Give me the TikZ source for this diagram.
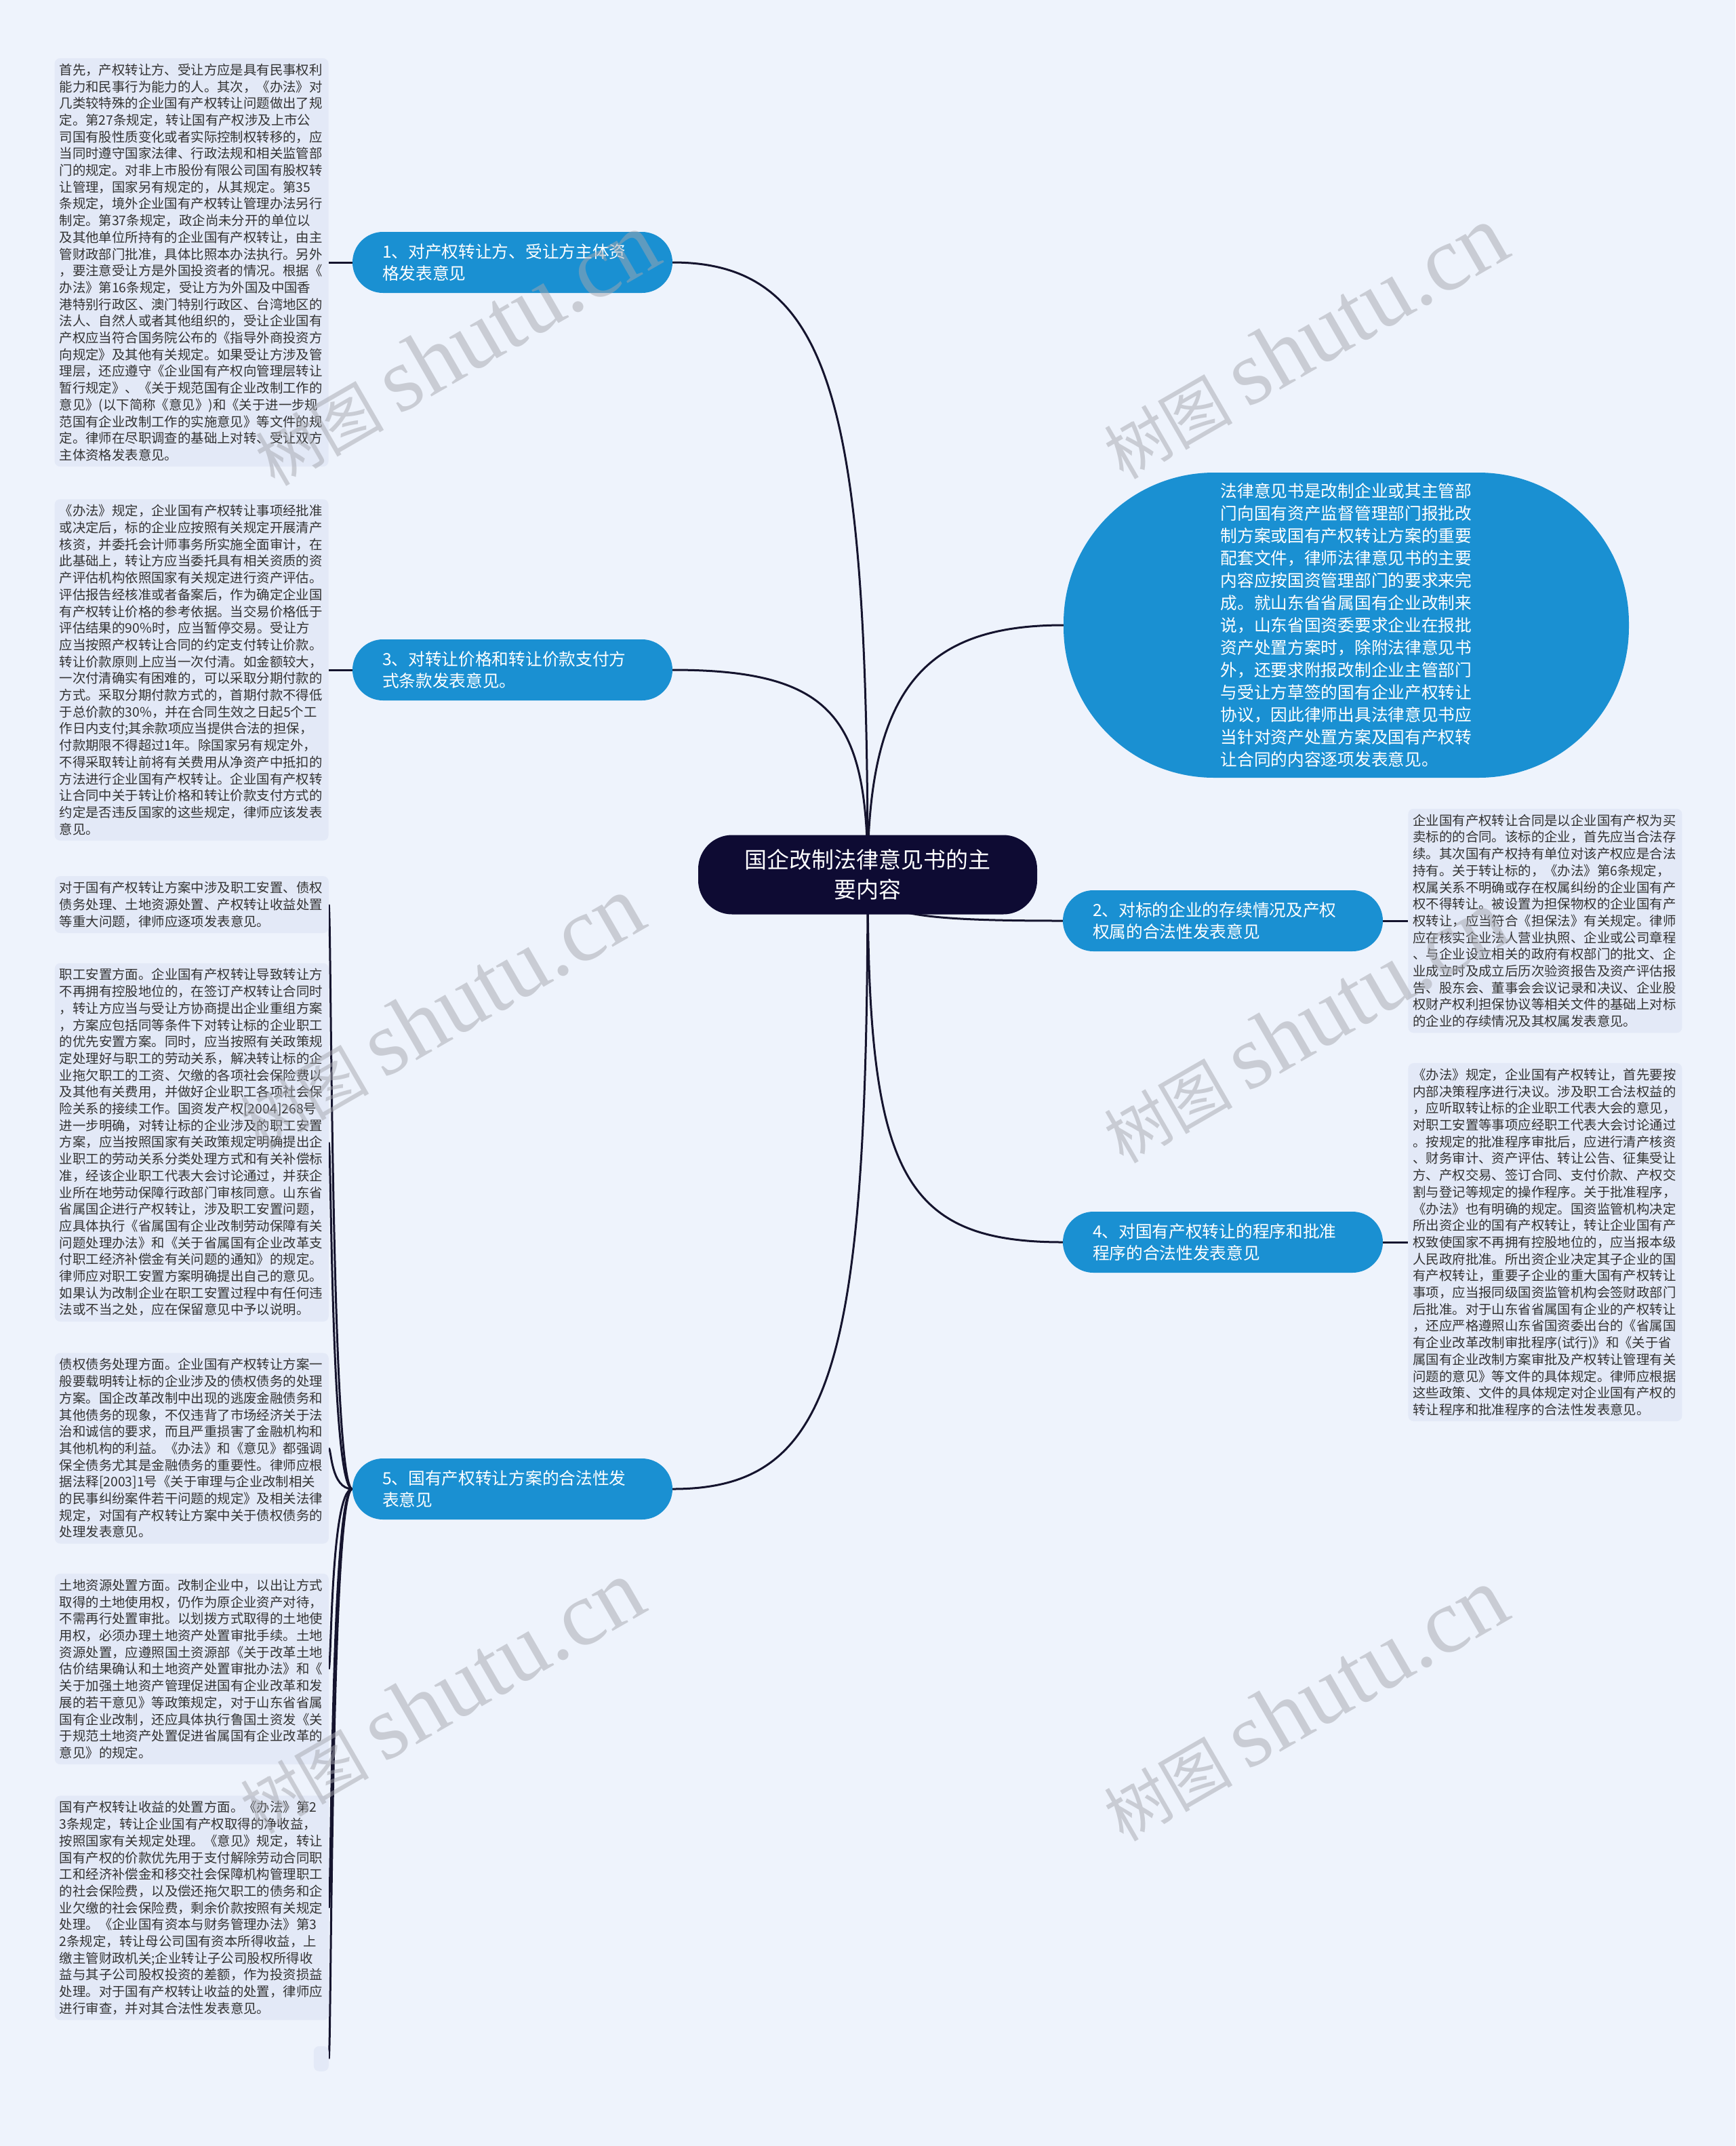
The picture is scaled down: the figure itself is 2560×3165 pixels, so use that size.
\documentclass[tikz,border=0pt]{standalone}
\usepackage{fontspec}
\setmainfont{Noto Sans CJK SC}
\newfontfamily\wmlatin{Liberation Serif}
\usetikzlibrary{positioning,backgrounds}

\definecolor{pagebg}{HTML}{EEF3FC}
\definecolor{notebg}{HTML}{E3E9F7}
\definecolor{topicblue}{HTML}{1A90D2}
\definecolor{rootnavy}{HTML}{0E0B33}
\definecolor{linkcol}{HTML}{15142E}
\definecolor{notetext}{HTML}{333333}
\definecolor{markgray}{HTML}{A5A7AE}

\newcommand{\shutumark}{树图 {\wmlatin\fontsize{135pt}{135pt}\selectfont shutu.cn}}

\tikzset{
  rootbox/.style={fill=rootnavy, text=white, rounded corners=50pt, minimum width=500pt,
    minimum height=117pt, align=center, font=\fontsize{33pt}{44pt}\selectfont},
  topicbox/.style={fill=topicblue, text=white, rounded corners=45pt, minimum height=90pt,
    text width=384pt, inner xsep=44pt, inner ysep=10pt, align=left,
    font=\fontsize{24.7pt}{32.5pt}\selectfont},
  leadbox/.style={fill=topicblue, text=white, rounded corners=222pt, minimum width=834pt,
    minimum height=450pt, align=left, font=\fontsize{24.7pt}{33pt}\selectfont},
  notebox/.style={fill=notebg, text=notetext, rounded corners=8pt, text width=390pt,
    inner xsep=7pt, inner ysep=8pt, align=left, font=\fontsize{19.4pt}{24.7pt}\selectfont},
  link/.style={draw=linkcol, line width=3pt},
  wmark/.style={text=markgray, opacity=0.5, rotate=30, font=\fontsize{95pt}{100pt}\selectfont}
}

\begin{document}
\begin{tikzpicture}[x=1pt,y=-1pt]
\useasboundingbox (0,0) rectangle (2560,3165);
\begin{scope}[on background layer]
  \fill[pagebg] (0,0) rectangle (2560,3165);
\end{scope}

% main topics
\node[rootbox] (root) at (1280,1290) {国企改制法律意见书的主\\要内容};
\node[topicbox] (t1) at (756,387) {1、对产权转让方、受让方主体资\\格发表意见};
\node[topicbox] (t3) at (756,988) {3、对转让价格和转让价款支付方\\式条款发表意见。};
\node[topicbox] (t5) at (756,2196) {5、国有产权转让方案的合法性发\\表意见};
\node[topicbox] (t2) at (1804,1358) {2、对标的企业的存续情况及产权\\权属的合法性发表意见};
\node[topicbox] (t4) at (1804,1832) {4、对国有产权转让的程序和批准\\程序的合法性发表意见};
\node[leadbox] (lead) at (1986,922) {法律意见书是改制企业或其主管部\\门向国有资产监督管理部门报批改\\制方案或国有产权转让方案的重要\\配套文件，律师法律意见书的主要\\内容应按国资管理部门的要求来完\\成。就山东省省属国有企业改制来\\说，山东省国资委要求企业在报批\\资产处置方案时，除附法律意见书\\外，还要求附报改制企业主管部门\\与受让方草签的国有企业产权转让\\协议，因此律师出具法律意见书应\\当针对资产处置方案及国有产权转\\让合同的内容逐项发表意见。};

% notes
\node[notebox, left=35pt of t1] (n1) {首先，产权转让方、受让方应是具有民事权利\\能力和民事行为能力的人。其次，《办法》对\\几类较特殊的企业国有产权转让问题做出了规\\定。第27条规定，转让国有产权涉及上市公\\司国有股性质变化或者实际控制权转移的，应\\当同时遵守国家法律、行政法规和相关监管部\\门的规定。对非上市股份有限公司国有股权转\\让管理，国家另有规定的，从其规定。第35\\条规定，境外企业国有产权转让管理办法另行\\制定。第37条规定，政企尚未分开的单位以\\及其他单位所持有的企业国有产权转让，由主\\管财政部门批准，具体比照本办法执行。另外\\，要注意受让方是外国投资者的情况。根据《\\办法》第16条规定，受让方为外国及中国香\\港特别行政区、澳门特别行政区、台湾地区的\\法人、自然人或者其他组织的，受让企业国有\\产权应当符合国务院公布的《指导外商投资方\\向规定》及其他有关规定。如果受让方涉及管\\理层，还应遵守《企业国有产权向管理层转让\\暂行规定》、《关于规范国有企业改制工作的\\意见》(以下简称《意见》)和《关于进一步规\\范国有企业改制工作的实施意见》等文件的规\\定。律师在尽职调查的基础上对转、受让双方\\主体资格发表意见。};
\node[notebox, left=35pt of t3] (n3) {《办法》规定，企业国有产权转让事项经批准\\或决定后，标的企业应按照有关规定开展清产\\核资，并委托会计师事务所实施全面审计，在\\此基础上，转让方应当委托具有相关资质的资\\产评估机构依照国家有关规定进行资产评估。\\评估报告经核准或者备案后，作为确定企业国\\有产权转让价格的参考依据。当交易价格低于\\评估结果的90\%时，应当暂停交易。受让方\\应当按照产权转让合同的约定支付转让价款。\\转让价款原则上应当一次付清。如金额较大，\\一次付清确实有困难的，可以采取分期付款的\\方式。采取分期付款方式的，首期付款不得低\\于总价款的30\%，并在合同生效之日起5个工\\作日内支付;其余款项应当提供合法的担保，\\付款期限不得超过1年。除国家另有规定外，\\不得采取转让前将有关费用从净资产中抵扣的\\方法进行企业国有产权转让。企业国有产权转\\让合同中关于转让价格和转让价款支付方式的\\约定是否违反国家的这些规定，律师应该发表\\意见。};
\node[notebox, right=37pt of t2] (n2) {企业国有产权转让合同是以企业国有产权为买\\卖标的的合同。该标的企业，首先应当合法存\\续。其次国有产权持有单位对该产权应是合法\\持有。关于转让标的，《办法》第6条规定，\\权属关系不明确或存在权属纠纷的企业国有产\\权不得转让。被设置为担保物权的企业国有产\\权转让，应当符合《担保法》有关规定。律师\\应在核实企业法人营业执照、企业或公司章程\\、与企业设立相关的政府有权部门的批文、企\\业成立时及成立后历次验资报告及资产评估报\\告、股东会、董事会会议记录和决议、企业股\\权财产权利担保协议等相关文件的基础上对标\\的企业的存续情况及其权属发表意见。};
\node[notebox, right=37pt of t4] (n4) {《办法》规定，企业国有产权转让，首先要按\\内部决策程序进行决议。涉及职工合法权益的\\，应听取转让标的企业职工代表大会的意见，\\对职工安置等事项应经职工代表大会讨论通过\\。按规定的批准程序审批后，应进行清产核资\\、财务审计、资产评估、转让公告、征集受让\\方、产权交易、签订合同、支付价款、产权交\\割与登记等规定的操作程序。关于批准程序，\\《办法》也有明确的规定。国资监管机构决定\\所出资企业的国有产权转让，转让企业国有产\\权致使国家不再拥有控股地位的，应当报本级\\人民政府批准。所出资企业决定其子企业的国\\有产权转让，重要子企业的重大国有产权转让\\事项，应当报同级国资监管机构会签财政部门\\后批准。对于山东省省属国有企业的产权转让\\，还应严格遵照山东省国资委出台的《省属国\\有企业改革改制审批程序(试行)》和《关于省\\属国有企业改制方案审批及产权转让管理有关\\问题的意见》等文件的具体规定。律师应根据\\这些政策、文件的具体规定对企业国有产权的\\转让程序和批准程序的合法性发表意见。};
\node[notebox, anchor=north east] (n5a) at (485,1292) {对于国有产权转让方案中涉及职工安置、债权\\债务处理、土地资源处置、产权转让收益处置\\等重大问题，律师应逐项发表意见。};
\node[notebox, below=44pt of n5a.south east, anchor=north east] (n5b) {职工安置方面。企业国有产权转让导致转让方\\不再拥有控股地位的，在签订产权转让合同时\\，转让方应当与受让方协商提出企业重组方案\\，方案应包括同等条件下对转让标的企业职工\\的优先安置方案。同时，应当按照有关政策规\\定处理好与职工的劳动关系，解决转让标的企\\业拖欠职工的工资、欠缴的各项社会保险费以\\及其他有关费用，并做好企业职工各项社会保\\险关系的接续工作。国资发产权[2004]268号\\进一步明确，对转让标的企业涉及的职工安置\\方案，应当按照国家有关政策规定明确提出企\\业职工的劳动关系分类处理方式和有关补偿标\\准，经该企业职工代表大会讨论通过，并获企\\业所在地劳动保障行政部门审核同意。山东省\\省属国企进行产权转让，涉及职工安置问题，\\应具体执行《省属国有企业改制劳动保障有关\\问题处理办法》和《关于省属国有企业改革支\\付职工经济补偿金有关问题的通知》的规定。\\律师应对职工安置方案明确提出自己的意见。\\如果认为改制企业在职工安置过程中有任何违\\法或不当之处，应在保留意见中予以说明。};
\node[notebox, below=46pt of n5b.south east, anchor=north east] (n5c) {债权债务处理方面。企业国有产权转让方案一\\般要载明转让标的企业涉及的债权债务的处理\\方案。国企改革改制中出现的逃废金融债务和\\其他债务的现象，不仅违背了市场经济关于法\\治和诚信的要求，而且严重损害了金融机构和\\其他机构的利益。《办法》和《意见》都强调\\保全债务尤其是金融债务的重要性。律师应根\\据法释[2003]1号《关于审理与企业改制相关\\的民事纠纷案件若干问题的规定》及相关法律\\规定，对国有产权转让方案中关于债权债务的\\处理发表意见。};
\node[notebox, below=44pt of n5c.south east, anchor=north east] (n5d) {土地资源处置方面。改制企业中，以出让方式\\取得的土地使用权，仍作为原企业资产对待，\\不需再行处置审批。以划拨方式取得的土地使\\用权，必须办理土地资产处置审批手续。土地\\资源处置，应遵照国土资源部《关于改革土地\\估价结果确认和土地资产处置审批办法》和《\\关于加强土地资产管理促进国有企业改革和发\\展的若干意见》等政策规定，对于山东省省属\\国有企业改制，还应具体执行鲁国土资发《关\\于规范土地资产处置促进省属国有企业改革的\\意见》的规定。};
\node[notebox, below=46pt of n5d.south east, anchor=north east] (n5e) {国有产权转让收益的处置方面。《办法》第2\\3条规定，转让企业国有产权取得的净收益，\\按照国家有关规定处理。《意见》规定，转让\\国有产权的价款优先用于支付解除劳动合同职\\工和经济补偿金和移交社会保障机构管理职工\\的社会保险费，以及偿还拖欠职工的债务和企\\业欠缴的社会保险费，剩余价款按照有关规定\\处理。《企业国有资本与财务管理办法》第3\\2条规定，转让母公司国有资本所得收益，上\\缴主管财政机关;企业转让子公司股权所得收\\益与其子公司股权投资的差额，作为投资损益\\处理。对于国有产权转让收益的处置，律师应\\进行审查，并对其合法性发表意见。};
\node[notebox, below=38pt of n5e.south east, anchor=north east, text width=8pt, minimum height=37pt] (n5f) {};

% links
\begin{scope}[on background layer]
  \draw[link] (root.center) .. controls +(0,-690) and +(237,0) .. (t1.east);
  \draw[link] (root.center) .. controls +(0,-230) and +(238,0) .. (t3.east);
  \draw[link] (root.center) .. controls +(0,-280) and +(-200,0) .. (lead.west);
  \draw[link] (root.center) .. controls +(0,56) and +(-240,0) .. (t2.west);
  \draw[link] (root.center) .. controls +(0,436) and +(-240,0) .. (t4.west);
  \draw[link] (root.center) .. controls +(0,725) and +(238,0) .. (t5.east);
  \draw[link] (t1.west) -- (n1.east);
  \draw[link] (t3.west) -- (n3.east);
  \draw[link] (t2.east) -- (n2.west);
  \draw[link] (t4.east) -- (n4.west);
  \foreach \k in {n5a,n5b,n5c,n5d,n5e,n5f}
    \draw[link] (t5.west) .. controls +(-32,0) and +(4,0) .. (\k.east);
\end{scope}

% watermark
\node[wmark] (w1) at (672,515) {\shutumark};
\node[wmark] (w2) at (1924,505) {\shutumark};
\node[wmark] (w3) at (650,1494) {\shutumark};
\node[wmark] (w4) at (1924,1514) {\shutumark};
\node[wmark] (w5) at (650,2503) {\shutumark};
\node[wmark] (w6) at (1924,2514) {\shutumark};
\end{tikzpicture}
\end{document}
